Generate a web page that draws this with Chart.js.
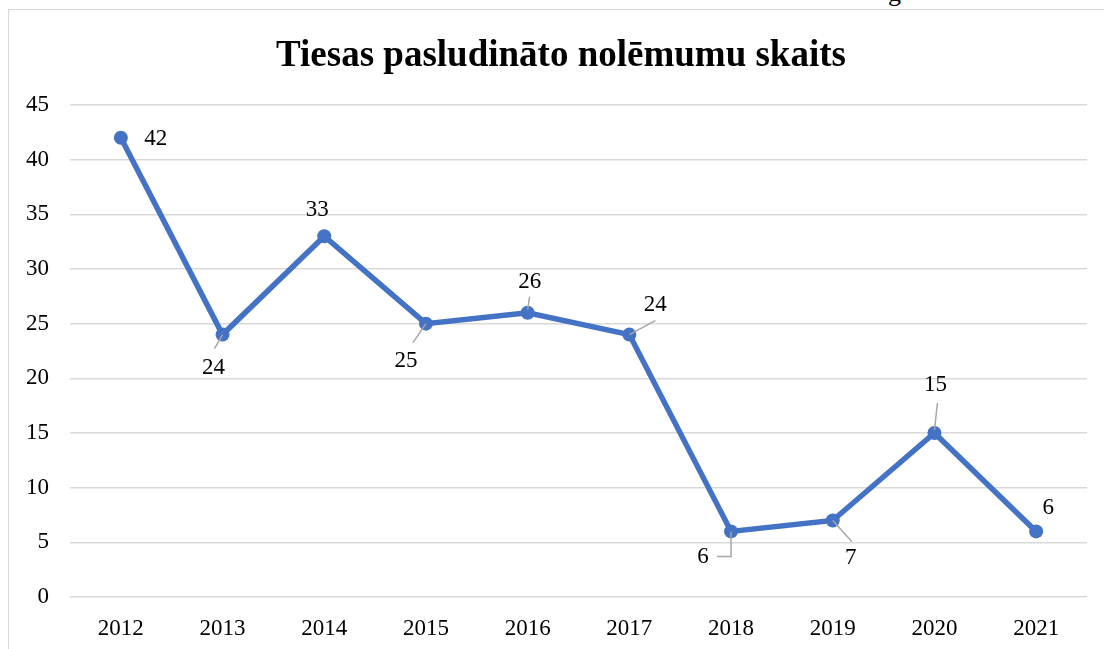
<!DOCTYPE html>
<html>
<head>
<meta charset="utf-8">
<script src="https://cdn.jsdelivr.net/npm/chart.js@4/dist/chart.umd.min.js"></script>
<style>
    html, body { margin: 0; padding: 0; background: #ffffff; overflow: hidden; }
    body { width: 1104px; height: 649px; position: relative; }
    #frame {
        position: absolute; left: 8px; top: 9px; width: 1110px; height: 660px;
        border: 1.5px solid #d9d9d9; box-sizing: border-box;
    }
    #chartWrap { position: absolute; left: 10px; top: 11px; width: 1094px; height: 638px; }
    #stray {
        position: absolute; left: 888px; top: -22px;
        font: 26px "Liberation Serif", serif; color: #000;
    }
</style>
</head>
<body>
<div id="frame"></div>
<span id="stray">g</span>
<div id="chartWrap"><canvas id="nolemumiChart"></canvas></div>
<script>
// Dati
const chartTitle = 'Tiesas pasludināto nolēmumu skaits';
const years = ['2012', '2013', '2014', '2015', '2016', '2017', '2018', '2019', '2020', '2021'];
const decisions = [42, 24, 33, 25, 26, 24, 6, 7, 15, 6];
const yTicks = [0, 5, 10, 15, 20, 25, 30, 35, 40, 45];

// Etiķešu novietojums (pikseļos attiecībā pret punktu) un vadlīnijas
const labelOffsets = [[35, 1], [-9, 33], [-7, -26], [-20, 37], [2, -31], [26, -30], [-28, 26], [18, 37], [1, -48], [12, -23]];
const leaderLines = [
    null,
    [[0, 0], [-8, 14]],
    null,
    [[0, 0], [-13, 19]],
    [[0, -3], [2, -16]],
    [[0, 0], [26, -14]],
    [[0, 0], [0, 25], [-14, 25]],
    [[0, 0], [19, 21]],
    [[0, -3], [3, -30]],
    null
];

const serif = '"Liberation Serif", "Times New Roman", serif';

// Virsraksts nedaudz pa labi no audekla centra, kā oriģinālā
const titlePlugin = {
    id: 'centeredTitle',
    afterDraw(chart) {
        const ctx = chart.ctx;
        ctx.save();
        ctx.fillStyle = '#000000';
        ctx.font = 'bold 37px ' + serif;
        ctx.textAlign = 'center';
        ctx.textBaseline = 'middle';
        ctx.fillText(chartTitle, chart.width / 2 + 4, 45);
        ctx.restore();
    }
};

const dataLabelPlugin = {
    id: 'dataLabels',
    afterDatasetsDraw(chart) {
        const ctx = chart.ctx;
        const meta = chart.getDatasetMeta(0);
        ctx.save();
        meta.data.forEach((pt, i) => {
            const leader = leaderLines[i];
            if (leader) {
                ctx.beginPath();
                ctx.strokeStyle = '#a6a6a6';
                ctx.lineWidth = 1.5;
                leader.forEach(([dx, dy], k) => {
                    if (k === 0) ctx.moveTo(pt.x + dx, pt.y + dy);
                    else ctx.lineTo(pt.x + dx, pt.y + dy);
                });
                ctx.stroke();
            }
            const [ox, oy] = labelOffsets[i];
            ctx.fillStyle = '#000000';
            ctx.font = '23px ' + serif;
            ctx.textAlign = 'center';
            ctx.textBaseline = 'middle';
            ctx.fillText(String(decisions[i]), pt.x + ox, pt.y + oy);
        });
        ctx.restore();
    }
};

const canvas = document.getElementById('nolemumiChart');
new Chart(canvas.getContext('2d'), {
    type: 'line',
    data: {
        labels: years,
        datasets: [{
            data: decisions,
            borderColor: '#4472c4',
            backgroundColor: '#4472c4',
            borderWidth: 5.5,
            tension: 0,
            pointRadius: 7,
            pointHoverRadius: 7,
            pointBackgroundColor: '#4472c4',
            pointBorderWidth: 0
        }]
    },
    options: {
        responsive: true,
        maintainAspectRatio: false,
        animation: false,
        layout: { padding: { left: 0, right: 17, top: 94, bottom: 0 } },
        plugins: {
            legend: { display: false },
            tooltip: { enabled: false },
            title: { display: false }
        },
        scales: {
            x: {
                offset: true,
                grid: { display: false },
                border: { display: false },
                ticks: { color: '#000000', font: { family: serif, size: 23 }, padding: 10 },
                afterFit: scale => { scale.height = 52; }
            },
            y: {
                min: 0,
                max: 45,
                afterBuildTicks: scale => { scale.ticks = yTicks.map(v => ({ value: v })); },
                grid: { color: '#d9d9d9', lineWidth: 1.5, drawTicks: false },
                border: { display: false },
                ticks: { color: '#000000', font: { family: serif, size: 23 }, padding: 21 },
                afterFit: scale => { scale.width = 60; }
            }
        }
    },
    plugins: [dataLabelPlugin, titlePlugin]
});
</script>
</body>
</html>
